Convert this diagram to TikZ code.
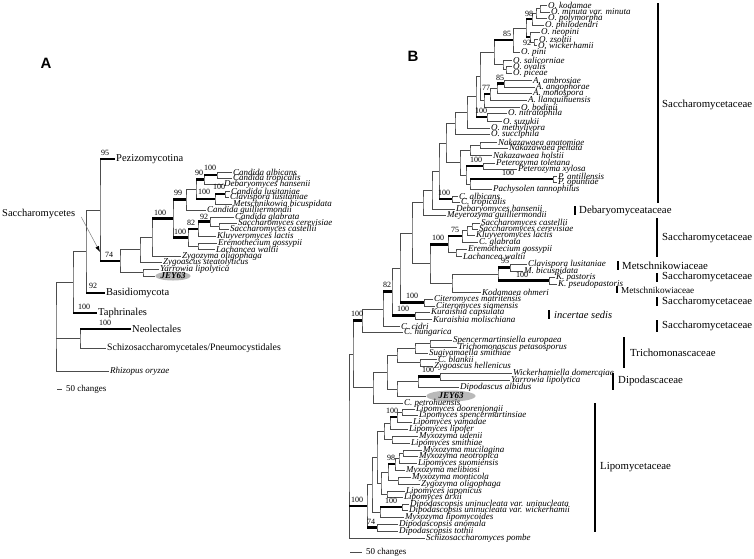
\documentclass[tikz,border=0pt]{standalone}
\usepackage{fontspec}
\setmainfont{Liberation Serif}
\newfontfamily\panelfont{Liberation Sans}
\usetikzlibrary{arrows.meta, calc, shapes.geometric}

% join two children at a given x
\newcommand{\jn}[4]{%
  \path let \p1=($(#3)!0.5!(#4)$) in (#2,\y1) coordinate (#1);
  \draw[br] (#3) -| (#1) |- (#4);}
% thick (supported) branch
\newcommand{\tb}[2]{\draw[tk] (#1 |- #2) -- (#2);}

\begin{document}
\begin{tikzpicture}[x=1pt, y=-1pt,
    br/.style={draw=black!70, line width=0.55pt},
    tk/.style={draw=black, line width=2.4pt},
    lf/.style={anchor=west, inner sep=1pt, font=\fontsize{9}{9}\selectfont\itshape},
    cl/.style={anchor=west, inner sep=1pt, font=\fontsize{10.5}{10.5}\selectfont},
    bs/.style={inner sep=0pt, font=\fontsize{8}{8}\selectfont},
    fam/.style={anchor=west, inner sep=0pt, font=\fontsize{10.8}{10.8}\selectfont},
    bar/.style={line width=1.5pt},
    jy/.style={ellipse, fill=gray!55, inner sep=0pt, font=\fontsize{9}{9}\selectfont\bfseries\itshape},
    sacarr/.style={draw=gray, line width=0.5pt, -{Latex[length=6pt, width=4pt, color=black]}},
    panel/.style={font=\panelfont\fontsize{15}{15}\selectfont\bfseries}
]
\useasboundingbox (0,0) rectangle (754,558);

% ---------------- Panel A ----------------
\node[panel] (pA) at (46,63) {A};

% Nodes
\node[cl] (pez) at (115,159) {Pezizomycotina};
\node[cl] (bas) at (105,293) {Basidiomycota};
\node[cl] (tap) at (97,313) {Taphrinales};
\node[cl] (neol) at (131,329) {Neolectales};
\node[cl, font=\fontsize{9.8}{9.8}\selectfont] (sch) at (106,348) {Schizosaccharomycetales/Pneumocystidales};
\node[lf] (rhi) at (109,371) {Rhizopus oryzae};
\node[cl] (sacl) at (1,214) {Saccharomycetes};

\node[lf] (aca) at (232,172) {Candida albicans};
\node[lf] (atr) at (232,178) {Candida tropicalis};
\node[lf] (adh) at (223,184) {Debaryomyces hansenii};
\node[lf] (acl) at (230,191) {Candida lusitaniae};
\node[lf] (acv) at (229,197) {Clavispora lusitaniae};
\node[lf] (amb) at (232,204) {Metschnikowia bicuspidata};
\node[lf] (agu) at (206,210) {Candida guilliermondii};
\node[lf] (agl) at (234,217) {Candida glabrata};
\node[lf] (ace) at (237,223) {Saccharomyces cerevisiae};
\node[lf] (acs) at (229,229) {Saccharomyces castellii};
\node[lf] (akl) at (216,236) {Kluyveromyces lactis};
\node[lf] (aeg) at (217,243) {Eremothecium gossypii};
\node[lf] (alw) at (215,249) {Lachancea waltii};
\node[lf] (azo) at (181,256) {Zygozyma oligophaga};
\node[lf] (azs) at (162,262) {Zygoascus steatolyticus};
\node[lf] (ayl) at (159,269) {Yarrowia lipolytica};
\node[jy, minimum width=33pt, minimum height=9pt] (ajy) at (173,276) {JEY63};

% Branches
\jn{A100a}{217}{aca}{atr}
\jn{A90}{204}{A100a}{adh}
\jn{A100c}{225}{acl}{acv}
\jn{A100b}{215}{A100c}{amb}
\jn{Asc}{196}{A90}{A100b}
\jn{A99}{186}{Asc}{agu}
\jn{Ass}{219}{ace}{acs}
\jn{A92}{210}{agl}{Ass}
\jn{A82}{198}{A92}{akl}
\jn{Ael}{198}{aeg}{alw}
\jn{AL}{188}{A82}{Ael}
\jn{A100}{173}{A99}{AL}
\jn{Asb}{152}{A100}{azo}
\jn{Asa}{140}{Asb}{azs}
\jn{Ayj}{143}{ayl}{ajy}
\jn{A74}{120}{Asa}{Ayj}
\jn{AN1}{100}{pez}{A74}
\jn{AN2}{86}{AN1}{bas}
\jn{AN3}{73}{AN2}{tap}
\jn{AN5}{80}{neol}{sch}
\jn{AR}{56}{AN3}{rhi}
\draw[br] (AN5) -- (AR |- AN5);

\tb{AN1}{pez}
\tb{AN1}{A74}
\tb{AN2}{bas}
\tb{AN3}{tap}
\tb{AN5}{neol}
\tb{Asb}{A100}
\tb{A100}{A99}
\tb{Asc}{A90}
\tb{A90}{A100a}
\tb{Asc}{A100b}
\tb{A100b}{A100c}
\tb{AL}{A82}
\tb{A82}{A92}
\tb{A100}{AL}

% Support values
\node[bs] (bA1) at (105,153) {95};
\node[bs] (bA2) at (109,255) {74};
\node[bs] (bA3) at (93,286) {92};
\node[bs] (bA4) at (84,307) {100};
\node[bs] (bA5) at (105,323) {100};
\node[bs] (bA6) at (160,213) {100};
\node[bs] (bA7) at (178,193) {99};
\node[bs] (bA8) at (199,173) {90};
\node[bs] (bA9) at (210,168) {100};
\node[bs] (bA10) at (204,192) {100};
\node[bs] (bA11) at (219,187) {100};
\node[bs] (bA12) at (191,223) {82};
\node[bs] (bA13) at (204,217) {92};
\node[bs] (bA14) at (180,232) {100};

\coordinate (sacp) at (AN1 |- A74);
\draw[sacarr] ([shift={(5pt,-3pt)}]sacl.east) -- ([yshift=9pt]sacp);

\node[anchor=west, inner sep=0pt, font=\fontsize{9}{9}\selectfont] (scA) at (66,389) {50 changes};
\draw[br] ([xshift=-9pt]scA.west) -- ([xshift=-4pt]scA.west);

% ---------------- Panel B ----------------
\node[panel] (pB) at (413,56) {B};

% Nodes
\node[lf] (kod) at (547,5) {O. kodamae};
\node[lf] (min) at (550,12) {O. minuta var. minuta};
\node[lf] (pol) at (547,18) {O. polymorpha};
\node[lf] (phi) at (544,25) {O. philodendri};
\node[lf] (neo) at (540,32) {O. neopini};
\node[lf] (zso) at (538,39) {O. zsoltii};
\node[lf] (wic) at (537,45) {O. wickerhamii};
\node[lf] (pin) at (520,52) {O. pini};
\node[lf] (sal) at (512,60) {O. salicorniae};
\node[lf] (ova) at (512,66) {O. ovalis};
\node[lf] (pic) at (512,73) {O. piceae};
\node[lf] (aam) at (532,80) {A. ambrosiae};
\node[lf] (aan) at (535,87) {A. angophorae};
\node[lf] (amo) at (532,93) {A. monospora};
\node[lf] (lla) at (527,100) {A. llanquihuensis};
\node[lf] (bod) at (520,107) {O. bodinii};
\node[lf] (nit) at (507,113) {O. nitratophila};
\node[lf] (suz) at (502,121) {O. suzukii};
\node[lf] (met) at (490,128) {O. methylivora};
\node[lf] (suc) at (490,134) {O. succiphila};
\node[lf] (nan) at (497,142) {Nakazawaea anatomiae};
\node[lf] (npe) at (508,148) {Nakazawaea peltata};
\node[lf] (nho) at (492,155) {Nakazawaea holstii};
\node[lf] (pto) at (495,163) {Peterozyma toletana};
\node[lf] (pxy) at (517,169) {Peterozyma xylosa};
\node[lf] (pan) at (557,176) {P. antillensis};
\node[lf] (pop) at (557,182) {P. opuntiae};
\node[lf] (pac) at (492,189) {Pachysolen tannophilus};
\node[lf] (cal) at (458,196) {C. albicans};
\node[lf] (ctr) at (460,202) {C. tropicalis};
\node[lf] (dha) at (455,209) {Debaryomyces hansenii};
\node[lf] (mgu) at (446,215) {Meyerozyma guilliermondii};
\node[lf] (sca) at (480,223) {Saccharomyces castellii};
\node[lf] (sce) at (478,229) {Saccharomyces cerevisiae};
\node[lf] (kla) at (475,235) {Kluyveromyces lactis};
\node[lf] (cgl) at (478,242) {C. glabrata};
\node[lf] (ego) at (467,249) {Eremothecium gossypii};
\node[lf] (lwa) at (462,256) {Lachancea waltii};
\node[lf] (clu) at (527,264) {Clavispora lusitaniae};
\node[lf] (mbi) at (523,271) {M. bicuspidata};
\node[lf] (kpa) at (555,277) {K. pastoris};
\node[lf] (kps) at (557,284) {K. pseudopastoris};
\node[lf] (koh) at (481,292) {Kodamaea ohmeri};
\node[lf] (cma) at (433,299) {Citeromyces matritensis};
\node[lf] (csi) at (435,306) {Citeromyces siamensis};
\node[lf] (kca) at (430,312) {Kuraishia capsulata};
\node[lf] (kmo) at (432,319) {Kuraishia molischiana};
\node[lf] (cci) at (400,326) {C. cidri};
\node[lf] (chu) at (403,332) {C. hungarica};
\node[lf] (seu) at (452,340) {Spencermartinsiella europaea};
\node[lf] (tpe) at (457,347) {Trichomonascus petasosporus};
\node[lf] (ssm) at (428,353) {Sugiyamaella smithiae};
\node[lf] (cbl) at (437,359) {C. blankii};
\node[lf] (zhe) at (433,366) {Zygoascus hellenicus};
\node[lf] (wdo) at (512,373) {Wickerhamiella domercqiae};
\node[lf] (yli) at (510,380) {Yarrowia lipolytica};
\node[lf] (dal) at (459,387) {Dipodascus albidus};
\node[jy, minimum width=49pt, minimum height=11pt] (jey) at (451,396) {JEY63};
\node[lf] (cpe) at (403,403) {C. petrohuensis};
\node[lf] (ldo) at (415,409) {Lipomyces doorenjongii};
\node[lf] (lsp) at (418,415) {Lipomyces spencermartinsiae};
\node[lf] (lya) at (412,422) {Lipomyces yamadae};
\node[lf] (lli) at (408,429) {Lipomyces lipofer};
\node[lf] (mud) at (418,436) {Myxozyma udenii};
\node[lf] (lsm) at (410,443) {Lipomyces smithiae};
\node[lf] (mmu) at (422,450) {Myxozyma mucilagina};
\node[lf] (mne) at (418,456) {Myxozyma neotropica};
\node[lf] (lsu) at (417,463) {Lipomyces suomiensis};
\node[lf] (mme) at (405,470) {Myxozyma melibiosi};
\node[lf] (mmo) at (411,477) {Myxozyma monticola};
\node[lf] (zol) at (420,484) {Zygozyma oligophaga};
\node[lf] (lja) at (405,491) {Lipomyces japonicus};
\node[lf] (lar) at (403,497) {Lipomyces arxii};
\node[lf] (duu) at (409,504) {Dipodascopsis uninucleata var. uninucleata};
\node[lf] (duw) at (408,510) {Dipodascopsis uninucleata var. wickerhamii};
\node[lf] (mli) at (404,517) {Myxozyma lipomycoides};
\node[lf] (dan) at (398,524) {Dipodascopsis anomala};
\node[lf] (dto) at (398,531) {Dipodascopsis tothii};
\node[lf] (spo) at (425,538) {Schizosaccharomyces pombe};

% Branches
\jn{a1}{540}{kod}{min}
\jn{a2}{536}{a1}{pol}
\jn{a98}{532}{a2}{phi}
\jn{a3}{534}{zso}{wic}
\jn{a92}{530}{neo}{a3}
\jn{a4}{526}{a98}{a92}
\jn{a85}{513}{a4}{pin}
\jn{s1}{506}{ova}{pic}
\jn{s2}{503}{sal}{s1}
\jn{a5}{494}{a85}{s2}
\jn{b85}{504}{aam}{aan}
\jn{b2}{497}{b85}{amo}
\jn{b77}{490}{b2}{lla}
\jn{b3}{484}{b77}{bod}
\jn{b4}{480}{a5}{b3}
\jn{b100}{487}{nit}{suz}
\jn{b5}{476}{b4}{b100}
\jn{b6}{467}{b5}{met}
\jn{b7}{455}{b6}{suc}
\jn{n1}{480}{nan}{npe}
\jn{n2}{470}{n1}{nho}
\jn{p100}{483}{pto}{pxy}
\jn{q100}{553}{pan}{pop}
\jn{pq}{470}{q100}{pac}
\jn{pp}{466}{p100}{pq}
\jn{np}{460}{n2}{pp}
\jn{sr}{446}{b7}{np}
\jn{c1}{452}{cal}{ctr}
\jn{sc}{439}{sr}{c1}
\jn{sd}{432}{sc}{dha}
\jn{sm}{423}{sd}{mgu}
\jn{g1}{472}{sca}{sce}
\jn{g2}{467}{g1}{kla}
\jn{g75}{462}{g2}{cgl}
\jn{el}{456}{ego}{lwa}
\jn{g100}{448}{g75}{el}
\jn{m95}{510}{clu}{mbi}
\jn{kp}{549}{kpa}{kps}
\jn{mk}{498}{m95}{kp}
\jn{mkk}{452}{mk}{koh}
\jn{gg}{430}{g100}{mkk}
\jn{bb}{412}{sm}{gg}
\jn{cit}{424}{cma}{csi}
\jn{zz}{400}{bb}{cit}
\jn{kur}{415}{kca}{kmo}
\jn{w82}{392}{zz}{kur}
\jn{vv}{383}{w82}{cci}
\jn{uu}{362}{vv}{chu}
\jn{t1}{430}{seu}{tpe}
\jn{t2}{415}{t1}{ssm}
\jn{t3}{420}{cbl}{zhe}
\jn{t4}{397}{t2}{t3}
\jn{w1}{440}{wdo}{yli}
\jn{w2}{418}{w1}{dal}
\jn{w3}{397}{w2}{jey}
\jn{tw}{387}{t4}{w3}
\jn{xx}{373}{tw}{cpe}
\jn{yy}{353}{uu}{xx}
\jn{d1}{402}{ldo}{lsp}
\jn{d2}{397}{d1}{lya}
\jn{d3}{390}{d2}{lli}
\jn{d5}{392}{mud}{lsm}
\jn{d4}{384}{d3}{d5}
\jn{m1}{403}{mmu}{mne}
\jn{m2}{399}{m1}{lsu}
\jn{m98}{395}{m2}{mme}
\jn{m5}{398}{mmo}{zol}
\jn{m4}{388}{m98}{m5}
\jn{j1}{387}{lja}{lar}
\jn{m6}{381}{m4}{j1}
\jn{p1}{377}{d4}{m6}
\jn{du}{402}{duu}{duw}
\jn{q1}{380}{du}{mli}
\jn{q2}{372}{p1}{q1}
\jn{an}{377}{dan}{dto}
\jn{l0}{367}{q2}{an}
\jn{rb}{349}{yy}{spo}
\draw[br] (l0) -- (rb |- l0);

\tb{a4}{a98}
\tb{a4}{a92}
\tb{a5}{a85}
\tb{b2}{b85}
\tb{b3}{b77}
\tb{b5}{b100}
\tb{pp}{p100}
\tb{pq}{q100}
\tb{sc}{c1}
\tb{g100}{g75}
\tb{gg}{g100}
\tb{mk}{m95}
\tb{mk}{kp}
\tb{zz}{cit}
\tb{w82}{kur}
\tb{vv}{w82}
\tb{yy}{uu}
\tb{w2}{w1}
\tb{d3}{d2}
\tb{m4}{m98}
\tb{q1}{du}
\tb{l0}{an}
\tb{rb}{l0}

% Support values
\node[bs] (bB1) at (529,14) {98};
\node[bs] (bB2) at (527,43) {92};
\node[bs] (bB3) at (507,34) {85};
\node[bs] (bB4) at (500,78) {85};
\node[bs] (bB5) at (486,88) {77};
\node[bs] (bB6) at (481,111) {100};
\node[bs] (bB7) at (476,160) {100};
\node[bs] (bB8) at (508,173) {100};
\node[bs] (bB9) at (444,193) {100};
\node[bs] (bB10) at (455,230) {75};
\node[bs] (bB11) at (438,238) {100};
\node[bs] (bB12) at (505,261) {95};
\node[bs] (bB13) at (522,275) {100};
\node[bs] (bB14) at (412,296) {100};
\node[bs] (bB15) at (387,285) {82};
\node[bs] (bB16) at (403,309) {100};
\node[bs] (bB17) at (357,314) {100};
\node[bs] (bB18) at (428,370) {100};
\node[bs] (bB19) at (392,411) {100};
\node[bs] (bB20) at (391,458) {98};
\node[bs] (bB21) at (391,501) {100};
\node[bs] (bB22) at (357,500) {100};
\node[bs] (bB23) at (371,522) {74};

% Families
\node[fam] (f1) at (662,105) {Saccharomycetaceae};
\node[fam] (f2) at (579,211) {Debaryomyceataceae};
\node[fam] (f3) at (662,238) {Saccharomycetaceae};
\node[fam] (f4) at (622,266) {Metschnikowiaceae};
\node[fam] (f5) at (662,277) {Saccharomycetaceae};
\node[fam, font=\fontsize{9.2}{9.2}\selectfont] (f6) at (621,290) {Metschnikowiaceae};
\node[fam] (f7) at (662,302) {Saccharomycetaceae};
\node[fam, font=\fontsize{10.5}{10.5}\selectfont\itshape] (f8) at (554,315) {incertae sedis};
\node[fam] (f9) at (662,326) {Saccharomycetaceae};
\node[fam] (f10) at (630,353) {Trichomonascaceae};
\node[fam] (f11) at (618,381) {Dipodascaceae};
\node[fam] (f12) at (600,467) {Lipomycetaceae};

\draw[bar] (658,3) -- (658,203);
\draw[bar] (575,206) -- (575,215);
\draw[bar] (657,218) -- (657,257);
\draw[bar] (618,261) -- (618,270);
\draw[bar] (657,273) -- (657,282);
\draw[bar] (617,286) -- (617,293);
\draw[bar] (657,297) -- (657,306);
\draw[bar] (549,310) -- (549,319);
\draw[bar] (657,320) -- (657,332);
\draw[bar] (624,337) -- (624,368);
\draw[bar] (613,373) -- (613,390);
\draw[bar] (595,403) -- (595,532);

\node[anchor=west, inner sep=0pt, font=\fontsize{9}{9}\selectfont] (scB) at (366,552) {50 changes};
\draw[br] ([xshift=-16pt]scB.west) -- ([xshift=-4pt]scB.west);

\end{tikzpicture}
\end{document}
